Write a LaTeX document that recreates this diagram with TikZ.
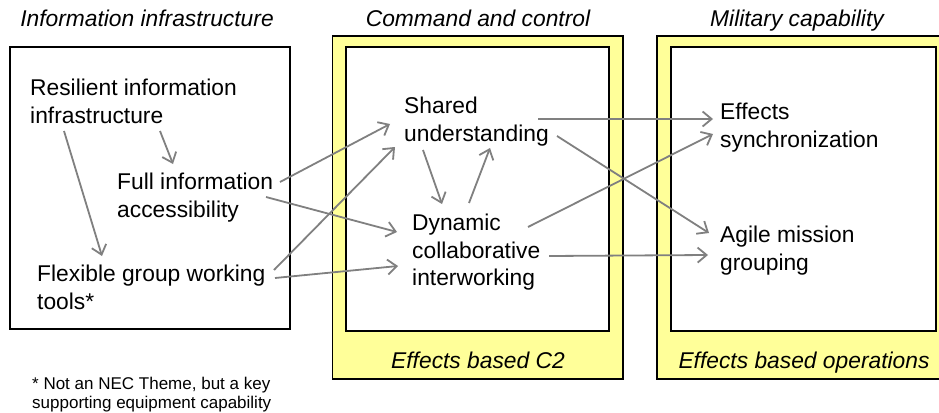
\documentclass[tikz,border=0pt]{standalone}
\usepackage{fontspec}
\setmainfont{Liberation Sans}
\usepackage{xcolor}
\usetikzlibrary{arrows.meta}
\definecolor{boxyellow}{HTML}{FFFF99}
\definecolor{linkgray}{HTML}{808080}
\tikzstyle{item} = [anchor=north west, inner sep=0pt, align=left,
                    font=\fontsize{22.8}{27.5}\selectfont]
\tikzstyle{heading} = [anchor=base, inner sep=0pt,
                       font=\fontsize{22.8}{27.5}\selectfont\itshape]
\tikzstyle{link} = [draw=linkgray, line width=1.8pt,
                    -{Straight Barb[length=9pt,width=15pt]}]
\tikzstyle{yellowbox} = [draw=black, line width=1.5pt, fill=boxyellow]
\tikzstyle{whitebox} = [draw=black, line width=2pt, fill=white]

\begin{document}
\begin{tikzpicture}[x=1pt, y=-1pt]
\useasboundingbox (0,0) rectangle (939,412);
%Boxes
\draw[whitebox, line width=1.8pt] (10,47) rectangle (290,329);
\draw[yellowbox] (332.5,36) rectangle (623,379);
\draw[whitebox] (346,47) rectangle (609,330.5);
\draw[yellowbox] (657,36) rectangle (945,379);
\draw[whitebox] (671,47) rectangle (935.5,330.5);

%Headings
\node[heading] at (147,27) (hinfo) {Information infrastructure};
\node[heading] at (478,27) (hcc) {Command and control};
\node[heading] at (797,27) (hmil) {Military capability};
\node[heading] at (478,368) (ebc) {Effects based C2};
\node[heading] at (804,368) (ebo) {Effects based operations};

% Information infrastructure
\node[item] at (30,79) (res) {Resilient information\\infrastructure};
\node[item] at (117,173) (full) {Full information\\accessibility};
\node[item] at (37,265) (flex) {Flexible group working\\tools*};

% Command and control
\node[item] at (404,97) (shared) {Shared\\understanding};
\node[item] at (412,214) (dyn) {Dynamic\\collaborative\\interworking};

% Military capability
\node[item] at (720,103) (sync) {Effects\\synchronization};
\node[item] at (720,226) (agile) {Agile mission\\grouping};

% Footnote
\node[item, font=\fontsize{17}{19}\selectfont] at (32,377) (note)
  {* Not an NEC Theme, but a key\\supporting equipment capability};

% Links
\draw[link] ([shift={(34,52)}]res.north west) -- ([shift={(65,-9)}]flex.north west);
\draw[link] ([shift={(130,52)}]res.north west) -- ([shift={(56,-9)}]full.north west);
\draw[link] ([shift={(163,9)}]full.north west) -- ([shift={(-14,27)}]shared.north west);
\draw[link] ([shift={(149,24)}]full.north west) -- ([shift={(-15,18)}]dyn.north west);
\draw[link] ([shift={(237,5)}]flex.north west) -- ([shift={(-9,50)}]shared.north west);
\draw[link] ([shift={(238,13)}]flex.north west) -- ([shift={(-14,52)}]dyn.north west);
\draw[link] ([shift={(19,53)}]shared.north west) -- ([shift={(30,-10)}]dyn.north west);
\draw[link] ([shift={(57,-11)}]dyn.north west) -- ([shift={(86,51)}]shared.north west);
\draw[link] ([shift={(134,22)}]shared.north west) -- ([shift={(-7,16)}]sync.north west);
\draw[link] ([shift={(153,39)}]shared.north west) -- ([shift={(-11,7)}]agile.north west);
\draw[link] ([shift={(116,13)}]dyn.north west) -- ([shift={(-7,31)}]sync.north west);
\draw[link] ([shift={(137,42)}]dyn.north west) -- ([shift={(-12,29)}]agile.north west);
\end{tikzpicture}
\end{document}
